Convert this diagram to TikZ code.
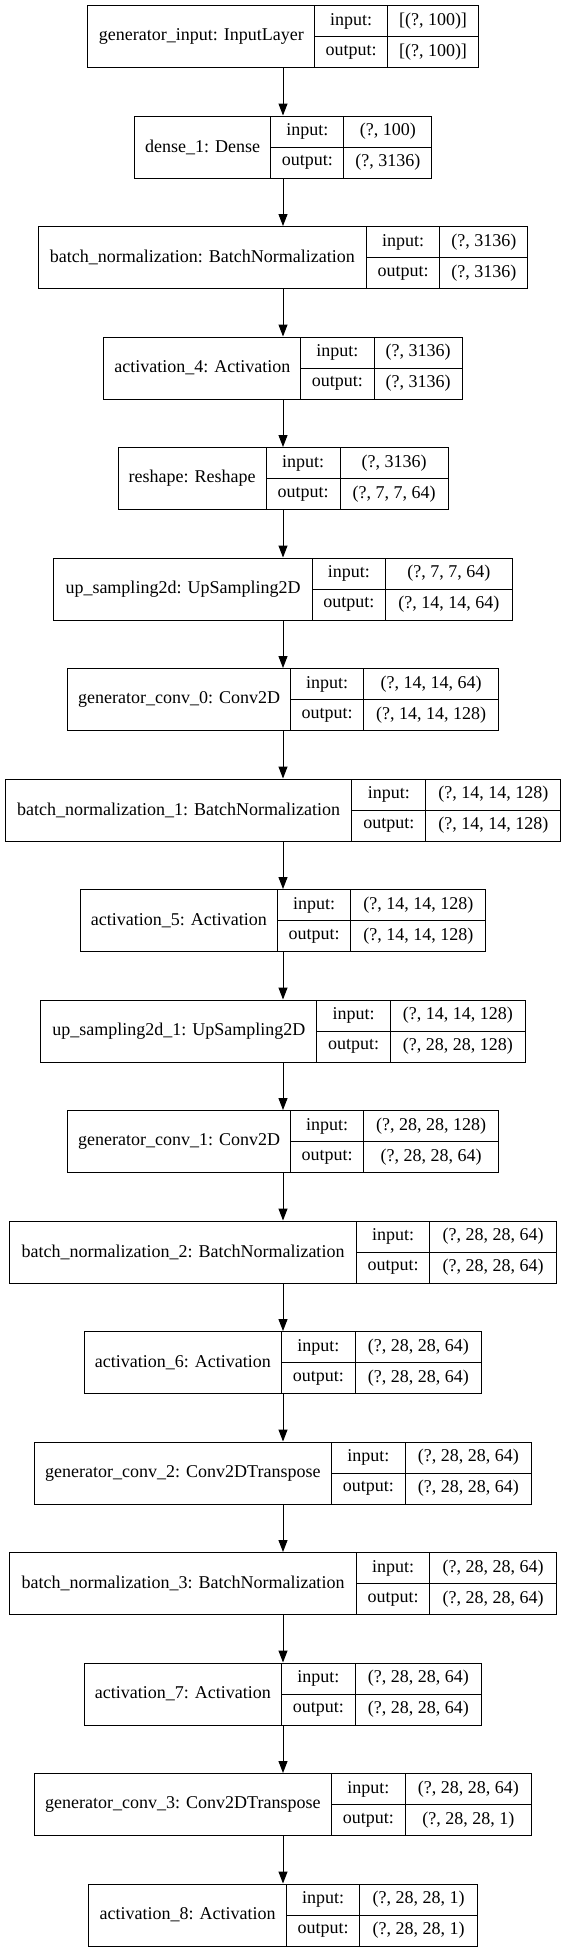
\documentclass[tikz,border=0pt]{standalone}
\usepackage{fontspec}
\setmainfont{Liberation Serif}
\usetikzlibrary{arrows.meta}
\tikzset{
  cell/.style={draw=black, line width=1pt, inner sep=0pt, minimum height=31pt,
    font=\fontsize{18}{20}\selectfont, anchor=north west},
  titlecell/.style={cell, minimum height=62pt},
  conn/.style={draw=black, line width=1pt, -{Triangle[length=12pt,width=9pt]}},
}
\newcommand\layer[9]{%
  \pgfmathsetmacro\lyTop{5+110.5*#2}%
  \pgfmathsetmacro\lyMid{\lyTop+31}%
  \pgfmathsetmacro\lwA{#4-#3}%
  \pgfmathsetmacro\lwB{#5-#4}%
  \pgfmathsetmacro\lwC{#6-#5}%
  \node[titlecell, minimum width=\lwA pt] (#1) at (#3,\lyTop) {#7};
  \node[cell, minimum width=\lwB pt] (#1-il) at (#4,\lyTop) {input:};
  \node[cell, minimum width=\lwB pt] (#1-ol) at (#4,\lyMid) {output:};
  \node[cell, minimum width=\lwC pt] (#1-iv) at (#5,\lyTop) {#8};
  \node[cell, minimum width=\lwC pt] (#1-ov) at (#5,\lyMid) {#9};
}
\begin{document}
\begin{tikzpicture}[x=1pt,y=-1pt]
\useasboundingbox[fill=white] (0,0) rectangle (565,1955);
\coordinate (ax) at (283,0);
\layer{L0}{0}{87.3}{314.3}{386.7}{478.3}{generator\_input: InputLayer}{[(?, 100)]}{[(?, 100)]}
\layer{L1}{1}{134.1}{270.3}{343.4}{431.4}{dense\_1: Dense}{(?, 100)}{(?, 3136)}
\layer{L2}{2}{37.8}{365.8}{439.3}{527.2}{batch\_normalization: BatchNormalization}{(?, 3136)}{(?, 3136)}
\layer{L3}{3}{103.4}{300.2}{373.7}{461.6}{activation\_4: Activation}{(?, 3136)}{(?, 3136)}
\layer{L4}{4}{117.8}{265.6}{339.5}{447.6}{reshape: Reshape}{(?, 3136)}{(?, 7, 7, 64)}
\layer{L5}{5}{53.3}{311.7}{384.9}{511.7}{up\_sampling2d: UpSampling2D}{(?, 7, 7, 64)}{(?, 14, 14, 64)}
\layer{L6}{6}{67}{290.1}{363.2}{498}{generator\_conv\_0: Conv2D}{(?, 14, 14, 64)}{(?, 14, 14, 128)}
\layer{L7}{7}{4.7}{351.4}{425.2}{560.4}{batch\_normalization\_1: BatchNormalization}{(?, 14, 14, 128)}{(?, 14, 14, 128)}
\layer{L8}{8}{79.6}{277.1}{350.3}{485.4}{activation\_5: Activation}{(?, 14, 14, 128)}{(?, 14, 14, 128)}
\layer{L9}{9}{40.4}{316.4}{389.9}{524.7}{up\_sampling2d\_1: UpSampling2D}{(?, 14, 14, 128)}{(?, 28, 28, 128)}
\layer{L10}{10}{67}{290.1}{363.2}{498}{generator\_conv\_1: Conv2D}{(?, 28, 28, 128)}{(?, 28, 28, 64)}
\layer{L11}{11}{9}{356}{429.2}{556}{batch\_normalization\_2: BatchNormalization}{(?, 28, 28, 64)}{(?, 28, 28, 64)}
\layer{L12}{12}{83.6}{281.1}{354.6}{481.1}{activation\_6: Activation}{(?, 28, 28, 64)}{(?, 28, 28, 64)}
\layer{L13}{13}{33.9}{330.8}{404.7}{530.8}{generator\_conv\_2: Conv2DTranspose}{(?, 28, 28, 64)}{(?, 28, 28, 64)}
\layer{L14}{14}{9}{356}{429.2}{556}{batch\_normalization\_3: BatchNormalization}{(?, 28, 28, 64)}{(?, 28, 28, 64)}
\layer{L15}{15}{83.6}{281.1}{354.6}{481.1}{activation\_7: Activation}{(?, 28, 28, 64)}{(?, 28, 28, 64)}
\layer{L16}{16}{33.9}{330.8}{404.7}{530.8}{generator\_conv\_3: Conv2DTranspose}{(?, 28, 28, 64)}{(?, 28, 28, 1)}
\layer{L17}{17}{88.3}{285.8}{359.3}{476.8}{activation\_8: Activation}{(?, 28, 28, 1)}{(?, 28, 28, 1)}
\foreach \a/\b in {L0/L1,L1/L2,L2/L3,L3/L4,L4/L5,L5/L6,L6/L7,L7/L8,L8/L9,L9/L10,L10/L11,L11/L12,L12/L13,L13/L14,L14/L15,L15/L16,L16/L17}
  \draw[conn] (\a.south -| ax) -- (\b.north -| ax);
\end{tikzpicture}
\end{document}
